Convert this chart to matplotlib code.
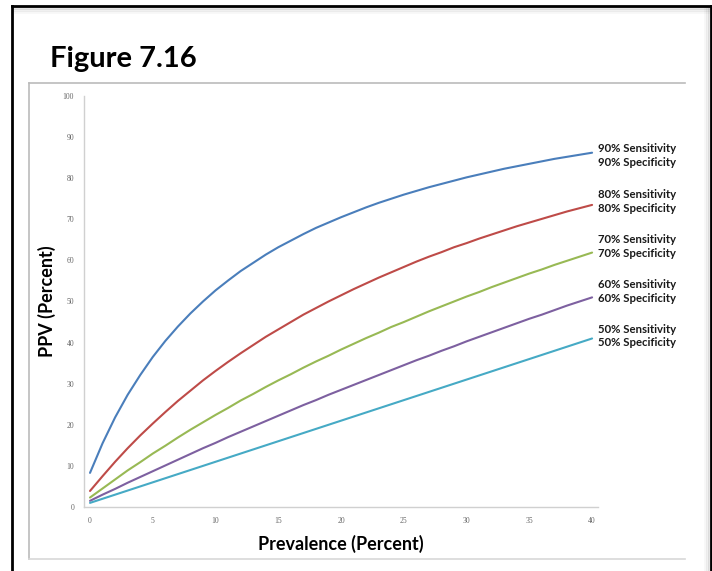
# %% Imports

import matplotlib.pyplot as plt
import matplotlib.lines as mlines

# %% Data (PPV, one point per category 0..40)

positions = list(range(41))

ppv_90 = [8.3, 15.5, 21.8, 27.3, 32.1, 36.5, 40.4, 43.9, 47.1, 50.0,
          52.7, 55.1, 57.4, 59.4, 61.4, 63.2, 64.8, 66.4, 67.9, 69.2,
          70.5, 71.7, 72.9, 74.0, 75.0, 76.0, 76.9, 77.8, 78.6, 79.4,
          80.2, 80.9, 81.6, 82.3, 82.9, 83.5, 84.1, 84.7, 85.2, 85.7, 86.2]
ppv_80 = [3.9, 7.5, 11.0, 14.3, 17.4, 20.3, 23.1, 25.8, 28.3, 30.8,
          33.1, 35.3, 37.4, 39.4, 41.4, 43.2, 45.0, 46.8, 48.4, 50.0,
          51.5, 53.0, 54.4, 55.8, 57.1, 58.4, 59.7, 60.9, 62.0, 63.2,
          64.2, 65.3, 66.3, 67.3, 68.3, 69.2, 70.1, 71.0, 71.9, 72.7, 73.5]
ppv_70 = [2.3, 4.5, 6.7, 8.9, 10.9, 13.0, 14.9, 16.9, 18.8, 20.6,
          22.4, 24.1, 25.9, 27.5, 29.2, 30.8, 32.3, 33.9, 35.4, 36.8,
          38.3, 39.7, 41.1, 42.4, 43.8, 45.0, 46.3, 47.6, 48.8, 50.0,
          51.2, 52.3, 53.5, 54.6, 55.7, 56.8, 57.8, 58.9, 59.9, 60.9, 61.9]
ppv_60 = [1.5, 3.0, 4.4, 5.9, 7.3, 8.7, 10.1, 11.5, 12.9, 14.3,
          15.6, 17.0, 18.3, 19.6, 20.9, 22.2, 23.5, 24.8, 26.0, 27.3,
          28.5, 29.7, 30.9, 32.1, 33.3, 34.5, 35.7, 36.8, 38.0, 39.1,
          40.3, 41.4, 42.5, 43.6, 44.7, 45.8, 46.8, 47.9, 49.0, 50.0, 51.0]
ppv_50 = [1, 2, 3, 4, 5, 6, 7, 8, 9, 10,
          11, 12, 13, 14, 15, 16, 17, 18, 19, 20,
          21, 22, 23, 24, 25, 26, 27, 28, 29, 30,
          31, 32, 33, 34, 35, 36, 37, 38, 39, 40, 41]

series = [ppv_90, ppv_80, ppv_70, ppv_60, ppv_50]
levels = ['90%', '80%', '70%', '60%', '50%']
colors = ['#4A7EBB', '#BE4B48', '#98B954', '#7D60A0', '#46AAC5']
label_dy = [-2, 2.5, 4.3, 4.3, 2]  # hand placed label nudges (points)

x_ticks = [0, 5, 10, 15, 20, 25, 30, 35, 40]
y_ticks = [0, 10, 20, 30, 40, 50, 60, 70, 80, 90, 100]

# %% Figure

fig = plt.figure(figsize=(7.12, 5.71), dpi=100)
ax = fig.add_axes([0.1176, 0.1121, 0.7228, 0.7198])

for vals, lev, col, dy in zip(series, levels, colors, label_dy):
    ax.plot(positions, vals, color=col, lw=1.5, solid_capstyle='round')
    ax.annotate(lev + ' Sensitivity\n' + lev + ' Specificity',
                xy=(positions[-1], vals[-1]), xytext=(4.5, dy),
                textcoords='offset points', ha='left', va='center',
                fontsize=8.2, fontweight='bold', family='Lato',
                linespacing=1.25, color='#1a1a1a', annotation_clip=False)

plt.setp(ax, xlim=[-0.5, 40.5], ylim=[0, 100])
ax.set_xticks(x_ticks)
ax.set_yticks(y_ticks)
ax.tick_params(length=0, labelsize=5.5, colors='#666666', pad=7)
for lab in ax.get_xticklabels() + ax.get_yticklabels():
    lab.set_family('Liberation Serif')
for side in ['top', 'right']:
    ax.spines[side].set_visible(False)
for side in ['left', 'bottom']:
    ax.spines[side].set_color('#D0D0D0')
    ax.spines[side].set_linewidth(1.0)

ax.set_xlabel('Prevalence (Percent)', fontsize=13, fontweight='bold',
              family='Lato', labelpad=7)
ax.set_ylabel('PPV (Percent)', fontsize=13, fontweight='bold',
              family='Lato', labelpad=5)

fig.text(50 / 712, 1 - 59 / 571, 'Figure 7.16', fontsize=21,
         fontweight='bold', family='Lato', va='center', ha='left')

# outer black frame (open at bottom) and inner grey box
W, H = 712.0, 571.0
def fline(x0, y0, x1, y1, **kw):
    fig.add_artist(mlines.Line2D([x0 / W, x1 / W], [1 - y0 / H, 1 - y1 / H], **kw))

for k, a in enumerate([0.10, 0.06, 0.03]):
    fline(13, 8 + k * 2, 709, 8 + k * 2, color='black', alpha=a, lw=2)
    fline(709 - k * 2, 8, 709 - k * 2, 571, color='black', alpha=a, lw=2)
fline(11.5, 6, 711, 6, color='black', lw=2)
fline(11.5, 6, 11.5, 571, color='black', lw=2)
fline(711, 6, 711, 571, color='black', lw=2)

fline(29, 83, 685, 83, color='#BBBBBB', lw=1.2)
fline(29, 83, 29, 559, color='#BBBBBB', lw=1.2)
fline(29, 559, 685, 559, color='#D8D8D8', lw=1.2)

fig.savefig('out.png', dpi=100)
